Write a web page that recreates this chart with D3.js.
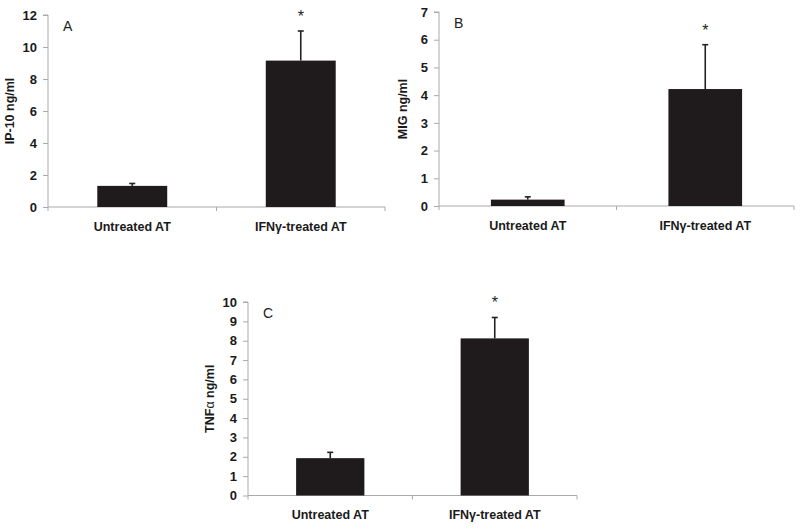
<!DOCTYPE html>
<html><head><meta charset="utf-8">
<script src="https://cdn.jsdelivr.net/npm/d3@7"></script>
<style>body{margin:0;background:#fff}svg{display:block}text{font-family:"Liberation Sans",Arial,sans-serif}</style>
</head><body><svg id="c" width="800" height="529"></svg>
<script>
const categories = ["Untreated AT", "IFNγ-treated AT"];
const ip10Values = [1.32, 9.15];
const ip10Errors = [0.15, 1.85];
const migValues = [0.23, 4.22];
const migErrors = [0.1, 1.6];
const tnfValues = [1.93, 8.12];
const tnfErrors = [0.3, 1.08];
const ip10Ticks = [0, 2, 4, 6, 8, 10, 12];
const migTicks = [0, 1, 2, 3, 4, 5, 6, 7];
const tnfTicks = [0, 1, 2, 3, 4, 5, 6, 7, 8, 9, 10];
const panelLetters = ["A", "B", "C"];
const significance = ["", "*"];

const svg = d3.select("#c");

function panel(cfg) {
  const {x0, x1, yTop, yBot, max, ticks, values, errors, letter, ylabel, ylabelX} = cfg;
  const g = svg.append("g");
  const x = d3.scaleBand().domain(categories).range([x0, x1]).padding(0);
  const bw = x.bandwidth() * 0.415;
  const cx = i => x(categories[i]) + x.bandwidth() / 2;
  const y = d3.scaleLinear().domain([0, max]).range([yBot, yTop]);
  // y axis
  const ya = g.append("g").attr("transform", `translate(${x0},0)`)
    .call(d3.axisLeft(y).tickValues(ticks).tickFormat(d3.format("d")).tickSize(5).tickPadding(6));
  ya.select(".domain").attr("stroke", "#aaa").attr("d", `M-5,${yTop}H0V${yBot}`);
  ya.selectAll(".tick line").attr("stroke", "#aaa");
  ya.selectAll(".tick text").attr("fill", "#1a1a1a").style("font-size", "13px").style("font-weight", "bold");
  // x axis
  const xa = g.append("g").attr("transform", `translate(0,${yBot})`)
    .call(d3.axisBottom(x).tickSize(0).tickPadding(15));
  xa.select(".domain").attr("stroke", "#aaa").attr("d", `M${x0},0H${x1}`);
  xa.selectAll(".tick text").attr("fill", "#1a1a1a").style("font-size", "12.5px").style("font-weight", "bold");
  // category separators
  const mids = [x0, (x0 + x1) / 2, x1];
  g.selectAll(".sep").data(mids).join("line")
    .attr("x1", d => d).attr("x2", d => d).attr("y1", yBot).attr("y2", yBot + 4).attr("stroke", "#aaa");
  // bars
  g.selectAll(".bar").data(values).join("rect")
    .attr("x", (d, i) => cx(i) - bw / 2).attr("width", bw)
    .attr("y", d => y(d)).attr("height", d => yBot - y(d)).attr("fill", "#1f1b1c");
  // error bars
  g.selectAll(".err").data(values).join("line")
    .attr("x1", (d, i) => cx(i)).attr("x2", (d, i) => cx(i))
    .attr("y1", d => y(d)).attr("y2", (d, i) => y(d + errors[i]))
    .attr("stroke", "#222").attr("stroke-width", 1.6);
  g.selectAll(".cap").data(values).join("line")
    .attr("x1", (d, i) => cx(i) - 3).attr("x2", (d, i) => cx(i) + 3)
    .attr("y1", (d, i) => y(d + errors[i])).attr("y2", (d, i) => y(d + errors[i]))
    .attr("stroke", "#222").attr("stroke-width", 1.6);
  // significance
  g.selectAll(".sig").data(values).join("text")
    .attr("x", (d, i) => cx(i))
    .attr("y", (d, i) => y(d + errors[i]) - 9)
    .attr("text-anchor", "middle").style("font-size", "16px").attr("fill", "#222")
    .text((d, i) => significance[i]);
  // letter
  g.append("text").attr("x", x0 + 15).attr("y", yTop + 16).style("font-size", "14px").attr("fill", "#222").text(letter);
  // y label
  g.append("text").attr("transform", `translate(${ylabelX},${(yTop + yBot) / 2}) rotate(-90)`)
    .attr("text-anchor", "middle").style("font-size", "12.5px").style("font-weight", "bold").attr("fill", "#1a1a1a")
    .html(ylabel);
}

panel({x0: 48, x1: 385, yTop: 15, yBot: 207, max: 12, ticks: ip10Ticks, values: ip10Values, errors: ip10Errors,
  letter: panelLetters[0], ylabel: "IP-10 ng/ml", ylabelX: 14});
panel({x0: 439, x1: 794, yTop: 12, yBot: 206, max: 7, ticks: migTicks, values: migValues, errors: migErrors,
  letter: panelLetters[1], ylabel: "MIG ng/ml", ylabelX: 407});
panel({x0: 248, x1: 577, yTop: 302, yBot: 495.5, max: 10, ticks: tnfTicks, values: tnfValues, errors: tnfErrors,
  letter: panelLetters[2], ylabel: "TNF<tspan style='font-weight:normal'>α</tspan> ng/ml", ylabelX: 214});
</script></body></html>
